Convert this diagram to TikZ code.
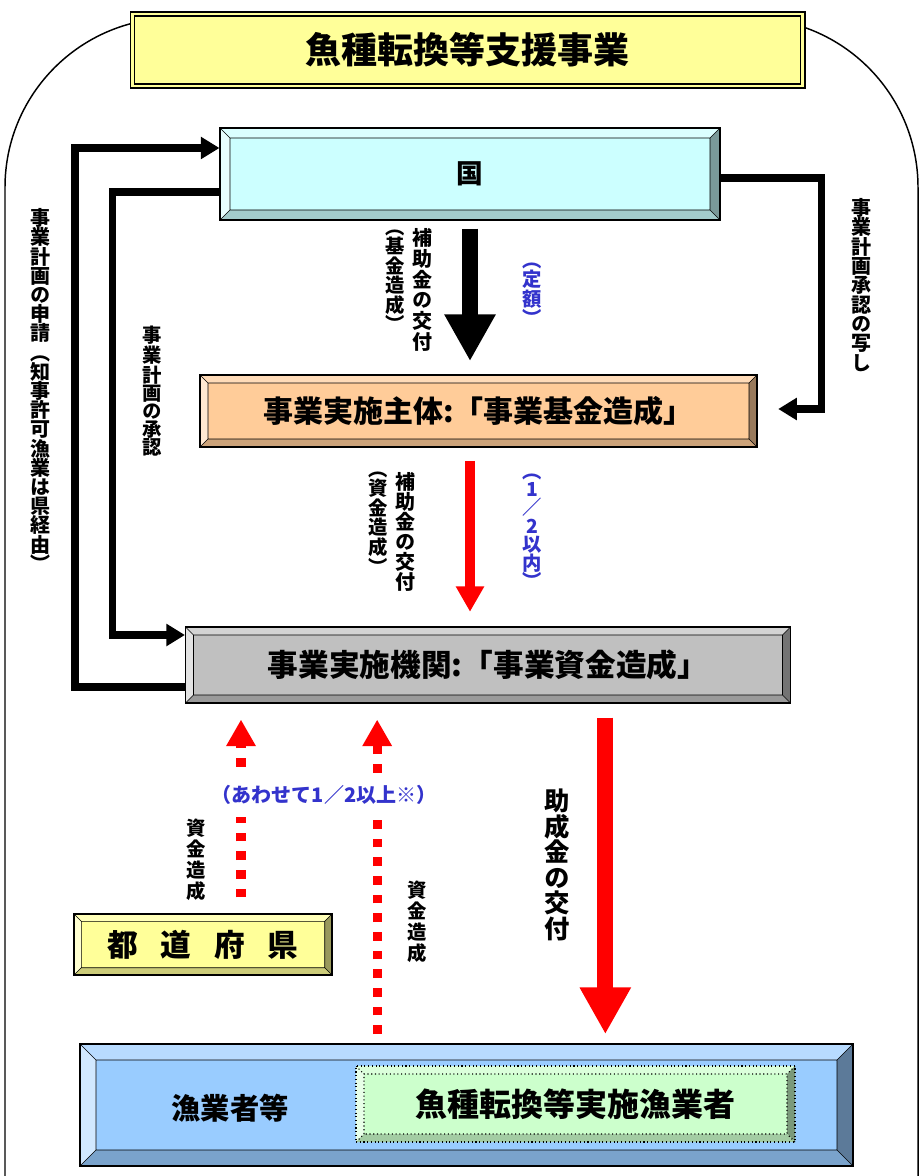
\documentclass[tikz,border=0pt]{standalone}
\usepackage{fontspec}
\setmainfont{Noto Sans CJK JP}
\newfontfamily\tatejp{Noto Sans CJK JP}[RawFeature=+vert]
\usetikzlibrary{arrows.meta}

\definecolor{titlefill}{HTML}{FFFF99}
\definecolor{kunifill}{HTML}{CCFFFF}
\definecolor{shutaifill}{HTML}{FFCC99}
\definecolor{kikanfill}{HTML}{C0C0C0}
\definecolor{kenfill}{HTML}{FFFF99}
\definecolor{gyofill}{HTML}{99CCFF}
\definecolor{tenkanfill}{HTML}{CCFFCC}
\definecolor{arrowred}{HTML}{FF0000}
\definecolor{noteblue}{HTML}{3333CC}

\newcommand\jpsize[2]{\fontsize{#1}{#2}\selectfont\bfseries}
% one character per line
\newcommand\tate[1]{\tatestep#1\tateend}
\def\tatestep#1#2\tateend{#1\ifx\relax#2\relax\else\\\tatestep#2\tateend\fi}

\tikzset{
    bevel line/.style = {black, line width=0.5pt},
    bevel box/.style 2 args = {draw=black, line width=0.8pt, fill=#2, inner sep=0pt,
        path picture={
            \coordinate (b-nw) at (path picture bounding box.north west);
            \coordinate (b-ne) at (path picture bounding box.north east);
            \coordinate (b-sw) at (path picture bounding box.south west);
            \coordinate (b-se) at (path picture bounding box.south east);
            \coordinate (f-nw) at ([shift={(#1,-#1)}]b-nw);
            \coordinate (f-ne) at ([shift={(-#1,-#1)}]b-ne);
            \coordinate (f-sw) at ([shift={(#1,#1)}]b-sw);
            \coordinate (f-se) at ([shift={(-#1,#1)}]b-se);
            \fill[#2!70!white] (b-nw) -- (b-ne) -- (f-ne) -- (f-nw) -- cycle;
            \fill[#2!45!white] (b-nw) -- (b-sw) -- (f-sw) -- (f-nw) -- cycle;
            \fill[#2!60!black] (b-ne) -- (b-se) -- (f-se) -- (f-ne) -- cycle;
            \fill[#2!80!black] (b-sw) -- (b-se) -- (f-se) -- (f-sw) -- cycle;
            \draw[bevel line] (f-sw) rectangle (f-ne)
                (b-nw) -- (f-nw) (b-ne) -- (f-ne) (b-sw) -- (f-sw) (b-se) -- (f-se);
        }},
    title box/.style = {draw=black, line width=0.9pt, double=titlefill, double distance=2.2pt,
        fill=titlefill, minimum width=503pt, minimum height=54pt, font=\jpsize{27pt}{30pt}},
    vt/.style = {align=center, inner sep=0pt},
    conn/.style = {line width=5.5pt, -{Triangle[length=14pt,width=16pt]}},
    big arrow/.style = {line width=12pt, -{Triangle[length=35pt,width=36pt]}},
    thin arrow/.style = {line width=7.5pt, -{Triangle[length=19pt,width=20pt]}},
    dot arrow/.style = {arrowred, line width=7pt, dash pattern=on 6.5pt off 7.5pt,
        -{Triangle[length=20pt,width=21pt]}},
}

\begin{document}
\begin{tikzpicture}[x=0.75pt,y=-0.75pt]
\useasboundingbox (0,0) rectangle (921,1176);
\fill[white] (0,0) rectangle (921,1176);

% frame round everything
\draw[line width=1.1pt, rounded corners=127pt] (5,1200) -- (5,18) -- (918,18) -- (918,1200);

\node[title box] (title) at (467.5,50) {魚種転換等支援事業};

\node[bevel box={7.5pt}{kunifill}, minimum width=375pt, minimum height=69pt,
    font=\jpsize{20pt}{22pt}] (kuni) at (470,174) {国};
\node[bevel box={6pt}{shutaifill}, minimum width=417.75pt, minimum height=54pt,
    font=\jpsize{22.5pt}{24pt}] (shutai) at (478.5,411) {事業実施主体:「事業基金造成」};
\node[bevel box={6pt}{kikanfill}, minimum width=453.75pt, minimum height=57pt,
    font=\jpsize{23pt}{24pt}] (kikan) at (488,665) {事業実施機関:「事業資金造成」};
\node[bevel box={5.5pt}{kenfill}, minimum width=193.5pt, minimum height=45.75pt,
    font=\jpsize{23pt}{24pt}] (ken) at (203,944.5) {都\hspace{17pt}道\hspace{17pt}府\hspace{17pt}県};
\node[bevel box={12pt}{gyofill}, minimum width=579.75pt, minimum height=91.5pt] (gyo) at (466.5,1105) {};
\node[font=\jpsize{22pt}{24pt}] (gyolabel) at (230,1108) {漁業者等};
\node[bevel box={6pt}{tenkanfill}, dotted, bevel line/.style={black, line width=0.8pt, dotted},
    minimum width=329.25pt, minimum height=57pt,
    font=\jpsize{24pt}{26pt}] (tenkan) at (575.5,1104) {魚種転換等実施漁業者};

% application and approval lines
\draw[conn] ([yshift=-16.5pt]kikan.west) -- ++(-110,0) |- ([yshift=19.5pt]kuni.west);
\draw[conn] ([yshift=-13.5pt]kuni.west) -- ++(-107,0) |- ([yshift=22.5pt]kikan.west);
\draw[conn] ([yshift=-3pt]kuni.east) -- ++(101,0) |- ([xshift=15.5pt,yshift=1.5pt]shutai.east);

\node[vt, font=\tatejp\jpsize{15pt}{14.4pt}] (shinsei) at (40,390) {\tate{事業計画の申請（知事許可漁業は県経由）}};
\node[vt, font=\tatejp\jpsize{14.5pt}{13.5pt}] (shonin) at (152,391) {\tate{事業計画の承認}};
\node[vt, font=\tatejp\jpsize{15pt}{14.5pt}] (utsushi) at (861,285) {\tate{事業計画承認の写し}};

% subsidies
\draw[big arrow, black] ([yshift=-6pt]kuni.south) -- ([yshift=10pt]shutai.north -| kuni.south);
\node[vt, font=\tatejp\jpsize{15pt}{15.5pt}] (kofu1) at (422,290) {\tate{補助金の交付}};
\node[vt, font=\tatejp\jpsize{14.5pt}{13pt}] (kikin) at (395,281) {\tate{（基金造成）}};
\node[vt, font=\tatejp\jpsize{14.5pt}{13pt}, text=noteblue] (teigaku) at (532,294) {\tate{（定額）}};

\draw[thin arrow, arrowred] ([yshift=-10pt]shutai.south -| kuni.south) -- ([yshift=11pt]kikan.north -| kuni.south);
\node[vt, font=\tatejp\jpsize{15pt}{15pt}] (kofu2) at (405,532) {\tate{補助金の交付}};
\node[vt, font=\tatejp\jpsize{14.5pt}{13pt}] (shikin) at (378,523) {\tate{（資金造成）}};
\node[vt, font=\tatejp\jpsize{14.5pt}{13.8pt}, text=noteblue] (hanbun) at (532,531) {\tate{（1／2以内）}};

\coordinate (josei-top) at ([xshift=88pt]kikan.south);
\draw[big arrow, arrowred] ([yshift=-10.5pt]josei-top) -- ([yshift=7pt]gyo.north -| josei-top);
\node[vt, font=\tatejp\jpsize{19pt}{19.2pt}] (josei) at (557,865) {\tate{助成金の交付}};

% contributions
\coordinate (ken-top) at ([xshift=28.5pt]ken.north);
\coordinate (gyo-top) at ([xshift=-67pt]gyo.north);
\draw[dot arrow] ([yshift=12pt]ken-top) -- ([yshift=-12pt]kikan.south -| ken-top);
\draw[dot arrow] ([yshift=7pt]gyo-top) -- ([yshift=-12pt]kikan.south -| gyo-top);
\node[fill=white, inner xsep=2pt, inner ysep=9pt, font=\jpsize{15pt}{16pt}, text=noteblue] (awase) at (324,795) {（あわせて1／2以上※）};
\node[vt, font=\tatejp\jpsize{14.5pt}{15.7pt}] (zosei1) at (196,860) {\tate{資金造成}};
\node[vt, font=\tatejp\jpsize{14.5pt}{15.7pt}] (zosei2) at (417,922) {\tate{資金造成}};
\end{tikzpicture}
\end{document}
